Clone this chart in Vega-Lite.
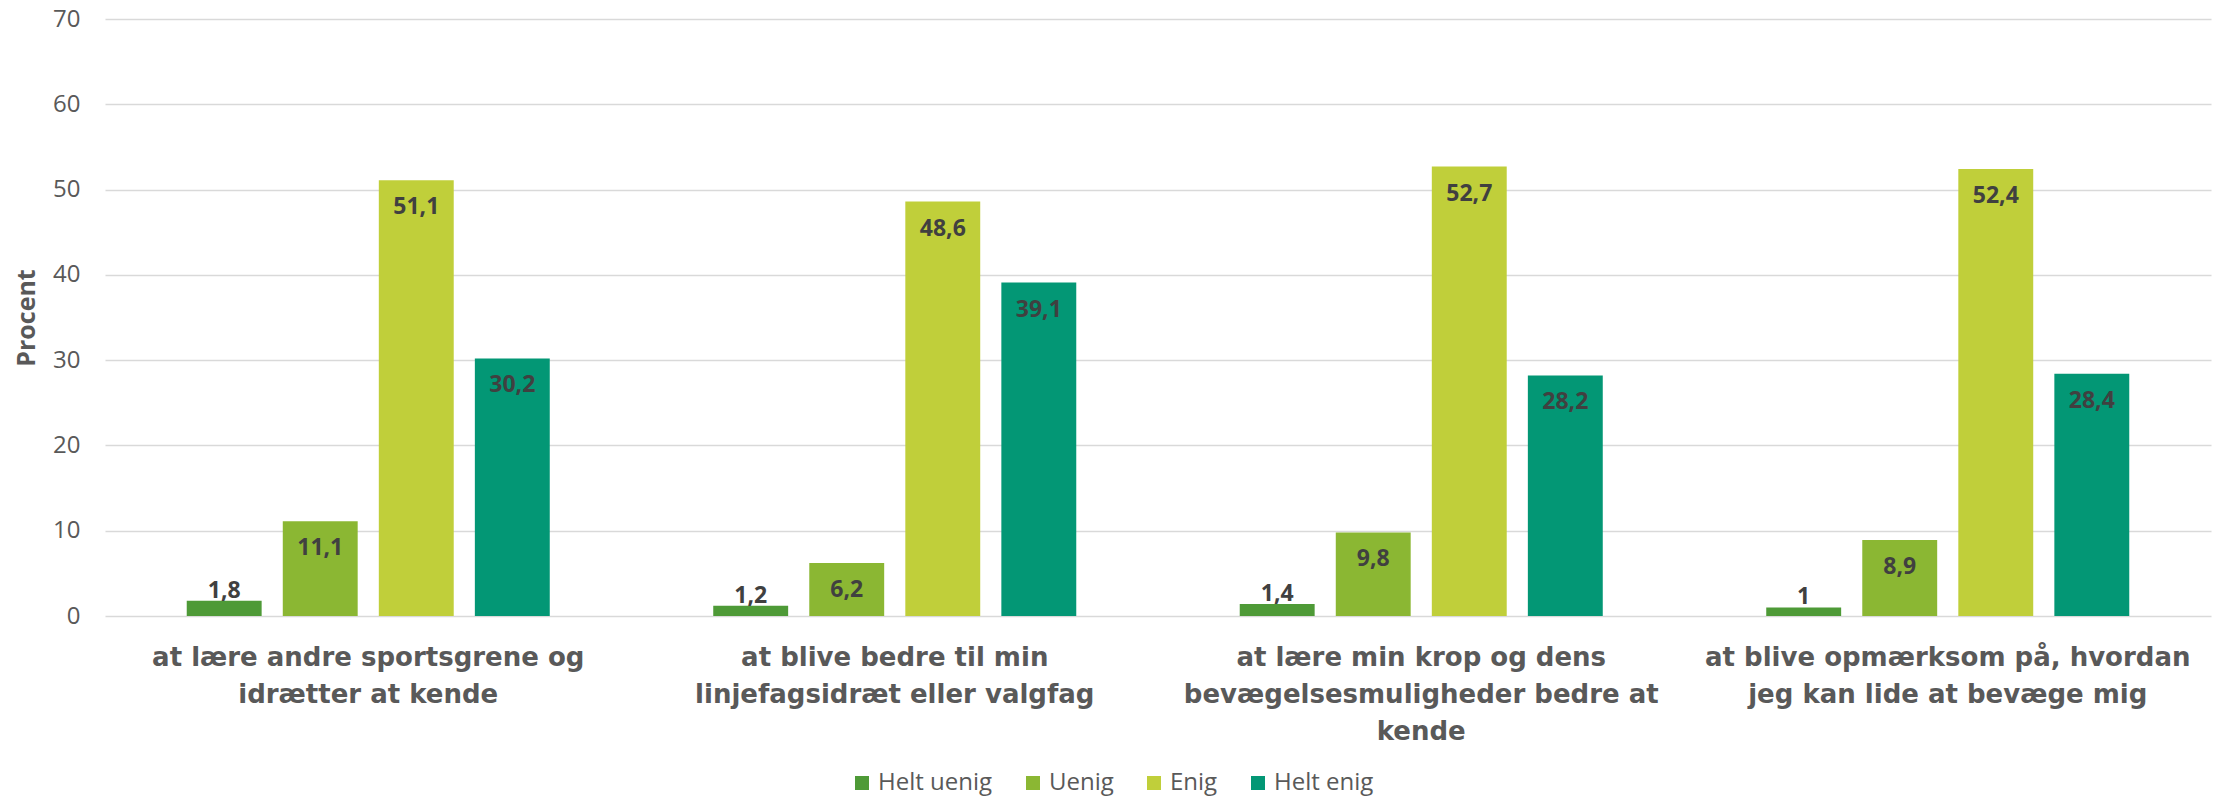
{
  "$schema": "https://vega.github.io/schema/vega-lite/v6.json",
  "autosize": "none",
  "width": 2106,
  "height": 597,
  "padding": {"left": 105, "top": 19, "right": 21, "bottom": 180},
  "background": "white",
  "config": {
    "locale": {"number": {"decimal": ",", "thousands": ".", "grouping": [3], "currency": ["", " kr."]}},
    "view": {"stroke": null},
    "font": "Open Sans"
  },
  "data": {
    "values": [
      {"kategori": "at lære andre sportsgrene og|idrætter at kende", "svar": "Helt uenig", "procent": 1.8},
      {"kategori": "at lære andre sportsgrene og|idrætter at kende", "svar": "Uenig", "procent": 11.1},
      {"kategori": "at lære andre sportsgrene og|idrætter at kende", "svar": "Enig", "procent": 51.1},
      {"kategori": "at lære andre sportsgrene og|idrætter at kende", "svar": "Helt enig", "procent": 30.2},
      {"kategori": "at blive bedre til min|linjefagsidræt eller valgfag", "svar": "Helt uenig", "procent": 1.2},
      {"kategori": "at blive bedre til min|linjefagsidræt eller valgfag", "svar": "Uenig", "procent": 6.2},
      {"kategori": "at blive bedre til min|linjefagsidræt eller valgfag", "svar": "Enig", "procent": 48.6},
      {"kategori": "at blive bedre til min|linjefagsidræt eller valgfag", "svar": "Helt enig", "procent": 39.1},
      {"kategori": "at lære min krop og dens|bevægelsesmuligheder bedre at|kende", "svar": "Helt uenig", "procent": 1.4},
      {"kategori": "at lære min krop og dens|bevægelsesmuligheder bedre at|kende", "svar": "Uenig", "procent": 9.8},
      {"kategori": "at lære min krop og dens|bevægelsesmuligheder bedre at|kende", "svar": "Enig", "procent": 52.7},
      {"kategori": "at lære min krop og dens|bevægelsesmuligheder bedre at|kende", "svar": "Helt enig", "procent": 28.2},
      {"kategori": "at blive opmærksom på, hvordan|jeg kan lide at bevæge mig", "svar": "Helt uenig", "procent": 1.0},
      {"kategori": "at blive opmærksom på, hvordan|jeg kan lide at bevæge mig", "svar": "Uenig", "procent": 8.9},
      {"kategori": "at blive opmærksom på, hvordan|jeg kan lide at bevæge mig", "svar": "Enig", "procent": 52.4},
      {"kategori": "at blive opmærksom på, hvordan|jeg kan lide at bevæge mig", "svar": "Helt enig", "procent": 28.4}
    ]
  },
  "encoding": {
    "x": {
      "field": "kategori", "type": "nominal", "sort": null,
      "scale": {"paddingInner": 0.3105, "paddingOuter": 0.15525},
      "axis": {
        "title": null, "labelAngle": 0, "domain": false, "ticks": false,
        "labelExpr": "split(datum.label, '|')",
        "labelFont": "DejaVu Sans", "labelFontWeight": "bold", "labelFontSize": 26,
        "labelColor": "#595959", "labelPadding": 28, "labelLineHeight": 37,
        "labelLimit": 700, "labelBaseline": "top"
      }
    },
    "xOffset": {
      "field": "svar", "type": "nominal",
      "sort": ["Helt uenig", "Uenig", "Enig", "Helt enig"],
      "scale": {"paddingInner": 0.22, "paddingOuter": 0}
    },
    "y": {
      "field": "procent", "type": "quantitative",
      "scale": {"domain": [0, 70]},
      "axis": {
        "title": "Procent", "values": [0, 10, 20, 30, 40, 50, 60, 70],
        "domain": false, "ticks": false, "gridColor": "#d9d9d9", "gridWidth": 1.5,
        "labelFont": "Open Sans", "labelFontSize": 24, "labelColor": "#595959", "labelPadding": 25,
        "titleFont": "Open Sans", "titleFontWeight": "bold", "titleFontSize": 25, "titleColor": "#595959", "titlePadding": 13
      }
    }
  },
  "layer": [
    {
      "mark": {"type": "bar"},
      "encoding": {
        "color": {
          "field": "svar", "type": "nominal",
          "scale": {"domain": ["Helt uenig", "Uenig", "Enig", "Helt enig"], "range": ["#4e9a37", "#8bb733", "#c0cf3a", "#039775"]},
          "legend": {
            "title": null, "orient": "none", "direction": "horizontal", "legendX": 745, "legendY": 752,
            "symbolType": "square", "symbolSize": 196, "symbolStrokeWidth": 0,
            "labelFont": "Open Sans", "labelFontSize": 24, "labelColor": "#595959",
            "labelOffset": 4, "columnPadding": 28
          }
        }
      }
    },
    {
      "transform": [{"filter": "datum.procent >= 5"}],
      "mark": {"type": "text", "baseline": "top", "dy": 16, "font": "Open Sans", "fontWeight": "bold", "fontSize": 23, "color": "#404040"},
      "encoding": {"text": {"field": "procent", "type": "quantitative", "format": ".1~f"}}
    },
    {
      "transform": [{"filter": "datum.procent < 5"}],
      "mark": {"type": "text", "baseline": "alphabetic", "dy": -3, "font": "Open Sans", "fontWeight": "bold", "fontSize": 23, "color": "#404040"},
      "encoding": {"text": {"field": "procent", "type": "quantitative", "format": ".1~f"}}
    }
  ]
}
